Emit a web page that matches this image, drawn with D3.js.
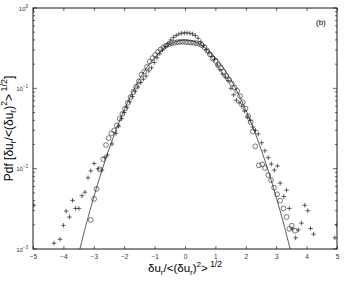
<!DOCTYPE html>
<html>
<head>
<meta charset="utf-8">
<script src="https://cdn.jsdelivr.net/npm/d3@7"></script>
<style>
  body { margin: 0; background: #fff; }
  text { font-family: "Liberation Sans", Arial, sans-serif; fill: #000; }
</style>
</head>
<body>
<script>
// circles (first data set)
var circX = [-3.10,-2.99,-2.91,-2.80,-2.69,-2.60,-2.51,-2.42,-2.33,-2.24,-2.15,-2.06,-1.97,-1.88,-1.79,-1.70,-1.61,-1.52,-1.43,-1.34,-1.25,-1.16,-1.07,-0.98,-0.89,-0.80,-0.71,-0.62,-0.53,-0.44,-0.35,-0.26,-0.17,-0.08,0.01,0.10,0.19,0.28,0.37,0.46,0.55,0.64,0.73,0.82,0.91,1.00,1.09,1.18,1.27,1.36,1.45,1.54,1.63,1.72,1.81,1.90,1.99,2.08,2.16,2.23,2.31,2.43,2.54,2.63,2.74,2.83,2.93,3.03,3.13,3.24,3.34,3.43,3.51,3.62];
var circP = [0.0023,0.0042,0.0056,0.0098,0.0131,0.0197,0.0240,0.0275,0.0300,0.0345,0.0420,0.0480,0.0560,0.0660,0.0780,0.0900,0.1050,0.1220,0.1480,0.1620,0.1850,0.2150,0.2380,0.2600,0.2850,0.3050,0.3250,0.3400,0.3550,0.3650,0.3700,0.3750,0.3780,0.3800,0.3780,0.3750,0.3720,0.3700,0.3650,0.3580,0.3450,0.3250,0.2950,0.2650,0.2350,0.2200,0.1950,0.1800,0.1600,0.1420,0.1280,0.1150,0.1020,0.0930,0.0800,0.0670,0.0560,0.0450,0.0380,0.0290,0.0190,0.0110,0.0113,0.0102,0.0083,0.0072,0.0058,0.0048,0.0040,0.0032,0.0025,0.00178,0.00195,0.00169];

// pluses (second data set)
var plusX = [-4.97,-4.31,-4.11,-4.00,-3.91,-3.80,-3.70,-3.60,-3.49,-3.39,-3.29,-3.19,-3.10,-2.99,-2.86,-2.73,-2.64,-2.55,-2.40,-2.27,-2.18,-2.09,-2.00,-1.91,-1.82,-1.73,-1.64,-1.55,-1.46,-1.37,-1.28,-1.19,-1.10,-1.01,-0.92,-0.83,-0.74,-0.65,-0.56,-0.47,-0.38,-0.29,-0.20,-0.11,-0.02,0.07,0.16,0.25,0.34,0.43,0.52,0.61,0.70,0.79,0.88,0.97,1.06,1.15,1.24,1.33,1.42,1.51,1.60,1.69,1.78,1.87,1.96,2.05,2.14,2.23,2.32,2.41,2.52,2.63,2.74,2.84,2.94,3.04,3.13,3.25,3.34,3.43,3.53,3.64,3.73,3.83,3.94,4.04,4.13,4.23,4.93,5.00];
var plusP = [0.0035,0.00118,0.00132,0.00197,0.00296,0.0025,0.00403,0.0032,0.0032,0.0046,0.0051,0.0077,0.0094,0.0116,0.0100,0.0096,0.0138,0.0148,0.0203,0.0275,0.034,0.042,0.050,0.058,0.068,0.079,0.092,0.104,0.118,0.130,0.142,0.165,0.180,0.210,0.240,0.270,0.300,0.330,0.360,0.400,0.430,0.455,0.475,0.485,0.490,0.490,0.485,0.475,0.455,0.420,0.380,0.340,0.300,0.275,0.250,0.230,0.195,0.170,0.150,0.138,0.125,0.100,0.083,0.071,0.066,0.060,0.052,0.044,0.040,0.033,0.030,0.027,0.021,0.0167,0.0137,0.0114,0.0096,0.0108,0.0066,0.0045,0.0054,0.0032,0.00178,0.00138,0.00173,0.0021,0.0035,0.0030,0.0018,0.00153,0.00138,0.0020];

var gaussX = [-3.5,-3.25,-3.0,-2.75,-2.5,-2.25,-2.0,-1.75,-1.5,-1.25,-1.0,-0.75,-0.5,-0.25,0,0.25,0.5,0.75,1.0,1.25,1.5,1.75,2.0,2.25,2.5,2.75,3.0,3.25,3.5];
var gaussP = [0.00087,0.00203,0.00443,0.0091,0.0175,0.0317,0.0540,0.0863,0.1295,0.1826,0.2420,0.3011,0.3521,0.3867,0.3989,0.3867,0.3521,0.3011,0.2420,0.1826,0.1295,0.0863,0.0540,0.0317,0.0175,0.0091,0.00443,0.00203,0.00087];

var xTicks = [-5,-4,-3,-2,-1,0,1,2,3,4,5];
var yTicks = [1, 0.1, 0.01, 0.001];
var yExp = ["0", "-1", "-2", "-3"];

var W = 345, H = 281;
var L = 33, R = 337, T = 8, B = 249;

var svg = d3.select("body").append("svg")
  .attr("width", W).attr("height", H);

var x = d3.scaleLinear().domain([-5, 5]).range([L, R]);
var y = d3.scaleLog().domain([0.001, 1]).range([B, T]);

svg.append("clipPath").attr("id", "clip")
  .append("rect").attr("x", L).attr("y", T).attr("width", R - L).attr("height", B - T);

var plot = svg.append("g").attr("clip-path", "url(#clip)");

var line = d3.line()
  .x(function(d, i) { return x(gaussX[i]); })
  .y(function(d) { return y(d); })
  .curve(d3.curveCatmullRom);

plot.append("path")
  .datum(gaussP)
  .attr("d", line)
  .style("fill", "none")
  .style("stroke", "#333")
  .style("stroke-width", 0.8);

plot.append("g")
  .selectAll("circle")
  .data(circP).enter()
  .append("circle")
  .attr("cx", function(d, i) { return x(circX[i]); })
  .attr("cy", function(d) { return y(d); })
  .attr("r", 2.4)
  .style("fill", "none")
  .style("stroke", "#222")
  .style("stroke-width", 0.6);

plot.append("g")
  .selectAll("path")
  .data(plusP).enter()
  .append("path")
  .attr("d", function(d, i) {
    var cx = x(plusX[i]), cy = y(d), s = 2.3;
    return "M" + (cx - s) + "," + cy + "H" + (cx + s) + "M" + cx + "," + (cy - s) + "V" + (cy + s);
  })
  .style("stroke", "#222")
  .style("stroke-width", 0.7);

// frame
svg.append("rect")
  .attr("x", L).attr("y", T).attr("width", R - L).attr("height", B - T)
  .style("fill", "none").style("stroke", "#000").style("stroke-width", 0.9);

// x axes, ticks pointing inward
var xb = svg.append("g").attr("transform", "translate(0," + B + ")")
  .call(d3.axisBottom(x).tickValues(xTicks).tickSizeInner(-3).tickSizeOuter(0).tickPadding(5));
var xt = svg.append("g").attr("transform", "translate(0," + T + ")")
  .call(d3.axisTop(x).tickValues(xTicks).tickSizeInner(-3).tickSizeOuter(0).tickFormat(""));
[xb, xt].forEach(function(g) {
  g.select(".domain").remove();
  g.selectAll("line").style("stroke", "#000").style("stroke-width", 0.6);
});
xb.selectAll("text")
  .style("font-size", "6.5px")
  .style("font-family", "Liberation Sans, Arial, sans-serif")
  .style("fill", "#333")
  .text(function(d) { return d < 0 ? "\u2212" + (-d) : d; });

// y axes: log ticks, minor ones shorter
var minor = [];
[0.001, 0.01, 0.1].forEach(function(dec) {
  for (var k = 2; k <= 9; k++) minor.push(dec * k);
});

function yTicksAt(xPos, dir) {
  var g = svg.append("g");
  g.selectAll("line.major").data(yTicks).enter().append("line")
    .attr("x1", xPos).attr("x2", xPos + dir * 4)
    .attr("y1", function(d) { return y(d); })
    .attr("y2", function(d) { return y(d); });
  g.selectAll("line.minor").data(minor).enter().append("line")
    .attr("x1", xPos).attr("x2", xPos + dir * 2)
    .attr("y1", function(d) { return y(d); })
    .attr("y2", function(d) { return y(d); });
  g.selectAll("line").style("stroke", "#000").style("stroke-width", 0.6);
}
yTicksAt(L, 1);
yTicksAt(R, -1);

var yl = svg.append("g").selectAll("text")
  .data(yTicks).enter().append("text")
  .attr("x", L - 5)
  .attr("y", function(d) { return y(d) + 2.5; })
  .attr("text-anchor", "end")
  .style("font-size", "6px")
  .style("fill", "#333");
yl.append("tspan").text("10");
yl.append("tspan")
  .attr("dy", -3)
  .style("font-size", "4.5px")
  .text(function(d, i) { return yExp[i].replace("-", "\u2212"); });

// axis labels
var xl = svg.append("text")
  .attr("x", (L + R) / 2).attr("y", 272)
  .attr("text-anchor", "middle")
  .style("font-size", "11.5px");
xl.append("tspan").text("\u03b4u");
xl.append("tspan").attr("dy", 3).style("font-size", "8px").text("r");
xl.append("tspan").attr("dy", -3).text("/<(\u03b4u");
xl.append("tspan").attr("dy", 3).style("font-size", "8px").text("r");
xl.append("tspan").attr("dy", -3).text(")");
xl.append("tspan").attr("dy", -5).style("font-size", "8px").text("2");
xl.append("tspan").attr("dy", 5).text(">");
xl.append("tspan").attr("dy", -5).style("font-size", "8.5px").text(" 1/2");

var ylab = svg.append("text")
  .attr("transform", "translate(13," + ((T + B) / 2) + ") rotate(-90)")
  .attr("text-anchor", "middle")
  .style("font-size", "12px");
ylab.append("tspan").text("Pdf [\u03b4u");
ylab.append("tspan").attr("dy", 3).style("font-size", "8.5px").text("r");
ylab.append("tspan").attr("dy", -3).text("/<(\u03b4u");
ylab.append("tspan").attr("dy", 3).style("font-size", "8.5px").text("r");
ylab.append("tspan").attr("dy", -3).text(")");
ylab.append("tspan").attr("dy", -6).style("font-size", "8.5px").text("2");
ylab.append("tspan").attr("dy", 6).text(">");
ylab.append("tspan").attr("dy", -6).style("font-size", "9px").text(" 1/2");
ylab.append("tspan").attr("dy", 6).text("]");

svg.append("text")
  .attr("x", 316).attr("y", 25)
  .style("font-size", "8px")
  .text("(b)");
</script>
</body>
</html>
